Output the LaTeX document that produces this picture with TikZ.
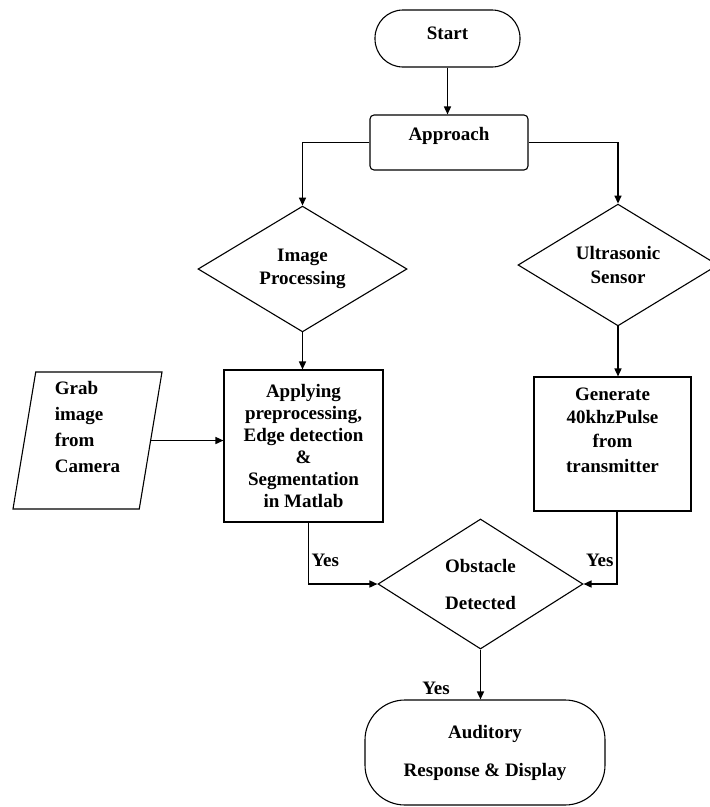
\documentclass[tikz,border=0pt]{standalone}
\usepackage{fontspec}
\setmainfont{Liberation Serif}
\usetikzlibrary{shapes.geometric, arrows.meta, positioning}

\begin{document}
\begin{tikzpicture}[x=1pt, y=-1pt, line width=1.1pt,
    font=\fontsize{19}{22}\selectfont\bfseries,
    terminal/.style={draw, rectangle, align=center},
    process/.style={draw, rectangle, align=center},
    decision/.style={draw, diamond, align=center, inner sep=0pt},
    inout/.style={draw, trapezium, trapezium left angle=77.6, trapezium right angle=102.4,
        trapezium stretches=true},
    arrow/.style={-{Triangle[length=8pt, width=7pt]}, line width=1.5pt},
    yeslabel/.style={inner sep=0pt}]
    \useasboundingbox (0,0) rectangle (710,807);

    \node[terminal, rounded corners=28pt, minimum width=145pt, minimum height=57pt, text depth=11pt] (start) at (447.5, 38.5) {Start};
    \node[process, rounded corners=4pt, minimum width=158pt, minimum height=55pt, text depth=18pt] (approach) at (449, 142.5) {Approach};

    \node[decision, minimum width=209pt, minimum height=108pt] (imgproc) at (302.5, 269) {Image\\[1pt]Processing};
    \node[decision, minimum width=200pt, minimum height=106pt] (ultrasonic) at (618, 265) {Ultrasonic\\[2pt]Sensor};

    \node[process, minimum width=159pt, minimum height=152pt] (matlab) at (303.5, 446)
        {Applying\\preprocessing,\\Edge detection\\\&\\Segmentation\\in Matlab};
    \node[inout, minimum width=149pt, minimum height=137pt,
        label={[align=left, yshift=13.5pt]center:Grab\\[4pt]image\\[4pt]from\\[4pt]Camera}] (grab) at (87.5, 440.5) {};
    \node[process, minimum width=157pt, minimum height=134pt,
        label={[align=center, yshift=14pt]center:Generate\\[1.5pt]40khzPulse\\[1.5pt]from\\[3pt]transmitter}] (pulse) at (612.5, 444) {};

    \node[decision, minimum width=205pt, minimum height=130pt] (obstacle) at (480.5, 584) {Obstacle\\[15pt]Detected};
    \node[terminal, rounded corners=40pt, minimum width=240pt, minimum height=105pt] (auditory) at (485, 752.5) {Auditory\\[16pt]Response \& Display};

    % connectors
    \draw[arrow] (start.south) -- (start.south |- approach.north);
    \draw[arrow] (approach.west) -| (imgproc.north);
    \draw[arrow] (approach.east) -| (ultrasonic.north);
    \draw[arrow] (imgproc.south) -- (imgproc.south |- matlab.north);
    \draw[arrow] (ultrasonic.south) -- (ultrasonic.south |- pulse.north);
    \draw[arrow] (grab.east) -- (grab.east -| matlab.west);
    \draw[arrow] ([xshift=5pt]matlab.south) |- (obstacle.west);
    \draw[arrow] ([xshift=4.5pt]pulse.south) |- (obstacle.east);
    \draw[arrow] (obstacle.south) -- (obstacle.south |- auditory.north);

    \node[yeslabel, anchor=west] (yesleft) at (311, 560) {Yes};
    \node[yeslabel, anchor=east] (yesright) at (614, 560) {Yes};
    \node[yeslabel] (yesbottom) at (436, 688) {Yes};
\end{tikzpicture}
\end{document}
